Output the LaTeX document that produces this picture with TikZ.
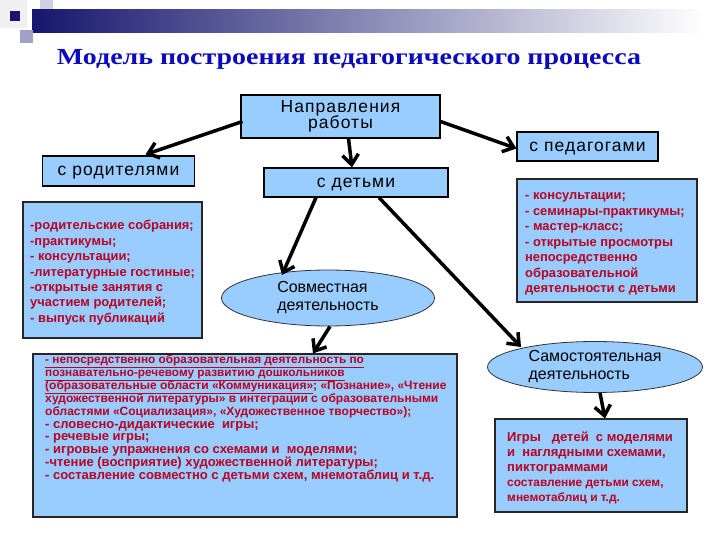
\documentclass[tikz,border=0pt]{standalone}
\usepackage{fontspec}
\setmainfont{Liberation Sans}
\newfontfamily\titlefont{Liberation Serif}
\newfontfamily\headfont[LetterSpace=6]{Liberation Sans}
\usetikzlibrary{arrows.meta,shapes.geometric,calc}
\definecolor{boxblue}{RGB}{153,204,255}
\definecolor{listred}{RGB}{185,0,35}
\definecolor{titleblue}{RGB}{10,10,190}
\definecolor{navy}{RGB}{22,22,110}
\definecolor{lav}{RGB}{160,160,200}
\newcommand{\txtblock}[1]{\vtop{\hsize=430pt\parindent=0pt\lineskiplimit=-40pt\raggedright #1}}
\tikzset{
  headbox/.style={draw=black, line width=1.1pt, fill=boxblue, inner sep=0pt, text depth=0pt, font=\headfont\fontsize{17.5}{20}\selectfont},
  listbox/.style={draw=black!85, line width=1.1pt, fill=boxblue, inner sep=0pt},
  listtext/.style={anchor=base west, inner sep=0pt, text=listred, font=\bfseries\fontsize{12.9}{15.5}\selectfont},
  oval/.style={ellipse, draw=black!80, line width=0.8pt, fill=boxblue, inner sep=0pt, align=left, font=\fontsize{16}{18}\selectfont},
  arr/.style={line width=3.5pt, -{Straight Barb[length=10pt,width=16pt]}}
}
\begin{document}
\begin{tikzpicture}[x=1pt,y=-1pt]
\useasboundingbox (0,0) rectangle (720,540);
\fill[white] (0,0) rectangle (720,540);
% decoration
\fill[black!6] (0,0) rectangle (27,28);
\fill[lav!50] (40,0) rectangle (53,12);
\shade[left color=navy, right color=white] (32,10) rectangle (705,33);
\fill[navy] (10,11) rectangle (20,21);
\fill[lav] (20,30) rectangle (33,43);
% title
\node[anchor=base, inner sep=0pt, text=titleblue, font=\titlefont\bfseries\fontsize{23}{26}\selectfont] (title) at (349,65) {\scalebox{1.215}[1]{Модель построения педагогического процесса}};
% head boxes
\node[headbox, minimum width=199pt, minimum height=43pt, align=center, text depth=, font=\headfont\fontsize{17.5}{16.5}\selectfont] (dir) at (340.5,116.5) {Направления\\работы};
\node[headbox, minimum width=152pt, minimum height=30pt] (par) at (118.5,171) {с родителями};
\node[headbox, minimum width=184pt, minimum height=29pt] (kids) at (356,182.5) {с детьми};
\node[headbox, minimum width=141pt, minimum height=29pt] (ped) at (587.5,146.5) {с педагогами};
% lists
\node[listbox, minimum width=179pt, minimum height=136pt] (parlist) at (112.5,270) {};
\node[listtext] (parlistT) at (30,229.5) {\txtblock{-родительские собрания;\\-практикумы;\\- консультации;\\-литературные гостиные;\\-открытые занятия с\\участием родителей;\\- выпуск публикаций}};
\node[listbox, minimum width=180pt, minimum height=123pt] (pedlist) at (607,240.5) {};
\node[listtext] (pedlistT) at (525,200) {\txtblock{- консультации;\\- семинары-практикумы;\\- мастер-класс;\\- открытые просмотры\\непосредственно\\образовательной\\деятельности с детьми}};
\node[listbox, minimum width=424pt, minimum height=163pt] (jointlist) at (245,435.5) {};
\node[listtext, font=\bfseries\fontsize{11.8}{12.9}\selectfont] (jointlistT) at (45,363.5) {\txtblock{\underline{- непосредственно образовательная деятельность по}\\\underline{познавательно-речевому развитию дошкольников}\\\fontsize{12}{12.9}\selectfont\underline{(образовательные области «Коммуникация»}; «Познание», «Чтение\\художественной литературы» в интеграции с образовательными\\областями «Социализация», «Художественное творчество»);\\\fontsize{13}{12.9}\selectfont - словесно-дидактические\ \ игры;\\- речевые игры;\\- игровые упражнения со схемами и\ \ моделями;\\-чтение (восприятие) художественной литературы;\\- составление совместно с детьми схем, мнемотаблиц и т.д.}};
\node[listbox, minimum width=192pt, minimum height=93pt] (indeplist) at (591,465.5) {};
\node[listtext, font=\bfseries\fontsize{13}{15}\selectfont] (indeplistT) at (507,441.7) {\txtblock{Игры\ \ \ детей\ \ с моделями\\и\ \ наглядными схемами,\\пиктограммами\\\fontsize{11.9}{15}\selectfont составление детьми схем,\\мнемотаблиц и т.д.}};
% ellipses
\node[oval, minimum width=213pt, minimum height=56pt] (joint) at (328,298) {Совместная\\деятельность};
\node[oval, minimum width=215pt, minimum height=51pt] (indep) at (595,367) {Самостоятельная\\деятельность};
% arrows
\draw[arr] ($(dir.west)+(2,5)$) -- ($(par.north)+(27,-1)$);
\draw[arr] ($(dir.south)+(8,0)$) -- ($(kids.north)+(-4,0)$);
\draw[arr] ($(dir.east)+(0,5)$) -- ($(ped.west)+(0,2)$);
\draw[arr] ($(kids.south)+(-40,0)$) -- ($(joint.center)+(-46,-23)$);
\draw[arr] ($(kids.south)+(23,0)$) -- ($(indep.center)+(-74,-20)$);
\draw[arr] ($(joint.south)+(2,0)$) -- ($(jointlist.north)+(68,0)$);
\draw[arr] ($(indep.south)+(5,0)$) -- ($(indeplist.north)+(14,0)$);
\end{tikzpicture}
\end{document}
